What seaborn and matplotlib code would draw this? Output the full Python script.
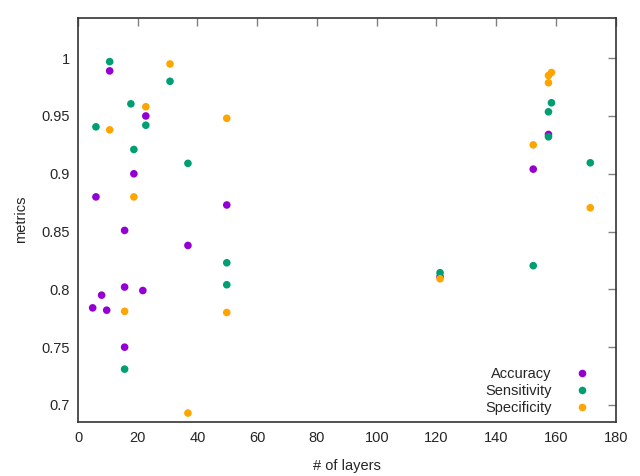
import pandas as pd
import numpy as np
import matplotlib.pyplot as plt
import seaborn as sns

# DATA

acc_layers = [10.6, 22.7, 18.7, 6.0, 49.8, 15.6, 36.8, 15.6, 21.7, 7.9, 4.9, 9.6, 15.6, 157.5, 152.4, 121.2]
acc_values = [0.989, 0.950, 0.900, 0.880, 0.873, 0.851, 0.838, 0.802, 0.799, 0.795, 0.784, 0.782, 0.750, 0.934, 0.904, 0.811]

sens_layers = [10.6, 30.8, 17.7, 22.7, 6.0, 18.7, 36.8, 49.8, 49.8, 15.6, 158.5, 157.5, 157.5, 171.5, 152.4, 121.2]
sens_values = [0.997, 0.980, 0.9605, 0.942, 0.9406, 0.921, 0.909, 0.823, 0.804, 0.731, 0.9614, 0.9536, 0.932, 0.9095, 0.8205, 0.8144]

spec_layers = [30.8, 22.7, 49.8, 10.6, 18.7, 15.6, 49.8, 36.8, 158.5, 157.5, 157.5, 152.4, 171.5, 121.2]
spec_values = [0.995, 0.958, 0.948, 0.938, 0.880, 0.781, 0.780, 0.693, 0.9876, 0.985, 0.9787, 0.925, 0.8706, 0.8092]

series_names = ['Accuracy', 'Sensitivity', 'Specificity']
colors = ['#9400d3', '#009e73', '#ffa500']

df = pd.concat([
    pd.DataFrame({'layers': acc_layers, 'value': acc_values, 'metric': 'Accuracy'}),
    pd.DataFrame({'layers': sens_layers, 'value': sens_values, 'metric': 'Sensitivity'}),
    pd.DataFrame({'layers': spec_layers, 'value': spec_values, 'metric': 'Specificity'}),
], ignore_index=True)

# PLOTTING

sns.set_style('white')
plt.rcParams['font.family'] = ['Liberation Sans', 'DejaVu Sans']

fig = plt.figure(figsize=(6.4, 4.76), dpi=100)
ax = fig.add_axes([0.1219, 0.114, 0.9620 - 0.1219, 0.9628 - 0.114])

sns.scatterplot(data=df, x='layers', y='value', hue='metric', hue_order=series_names,
                palette=colors, s=30, linewidth=0, ax=ax)

ax.set_xlim(0, 180)
ax.set_ylim(0.6855, 1.035)
ax.set_xticks(range(0, 181, 20))
ax.set_yticks(np.arange(0.7, 1.001, 0.05))
ax.set_yticklabels(['0.7', '0.75', '0.8', '0.85', '0.9', '0.95', '1'])

ax.set_xlabel('# of layers', fontsize=10.5, labelpad=10)
ax.set_ylabel('metrics', fontsize=10.5, labelpad=10)

ax.tick_params(axis='both', which='major', direction='in', length=6, width=1,
               color='#808080', labelsize=10.5, top=True, right=True, pad=7)
ax.tick_params(axis='y', pad=5.8)
for sp in ax.spines.values():
    sp.set_color('#333333')
    sp.set_linewidth(1.2)

handles, labels = ax.get_legend_handles_labels()
ax.legend(handles, labels, markerfirst=False, frameon=False, loc='lower right',
          fontsize=10.5, labelspacing=0.22, handletextpad=1.55, handlelength=1.0,
          borderaxespad=0.0, bbox_to_anchor=(0.961, 0.002))

plt.savefig('out.png', dpi=100)
